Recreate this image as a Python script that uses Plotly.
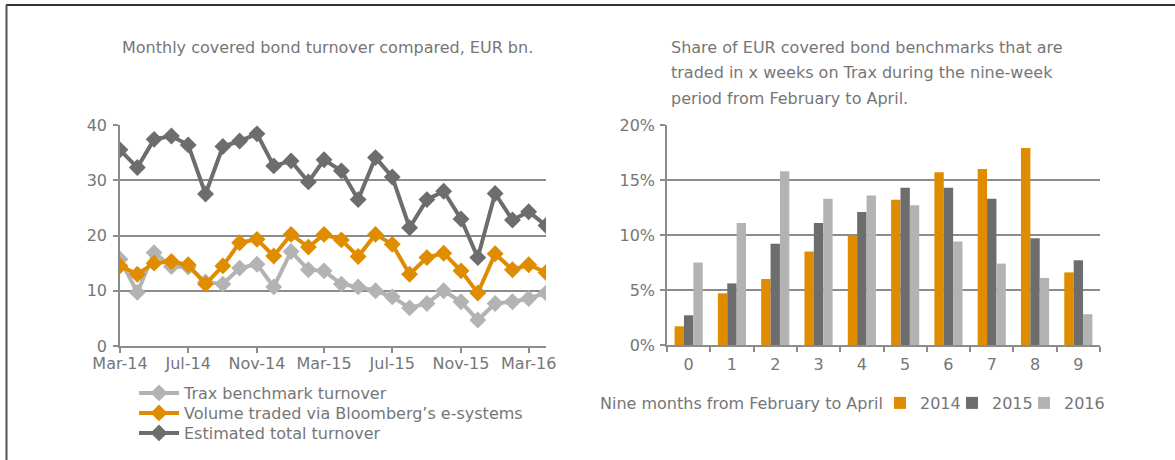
import plotly.graph_objects as go

months = ["2014-03-01", "2014-04-01", "2014-05-01", "2014-06-01", "2014-07-01", "2014-08-01",
          "2014-09-01", "2014-10-01", "2014-11-01", "2014-12-01", "2015-01-01", "2015-02-01",
          "2015-03-01", "2015-04-01", "2015-05-01", "2015-06-01", "2015-07-01", "2015-08-01",
          "2015-09-01", "2015-10-01", "2015-11-01", "2015-12-01", "2016-01-01", "2016-02-01",
          "2016-03-01", "2016-04-01"]
trax = [15.7, 9.7, 16.9, 14.4, 14.3, 11.6, 11.2, 14.1, 14.8, 10.7, 17.1, 13.8,
        13.6, 11.2, 10.7, 10.0, 8.9, 6.9, 7.7, 10.0, 8.0, 4.7, 7.7, 8.0, 8.6, 9.6]
bloomberg = [14.5, 13.0, 15.0, 15.3, 14.7, 11.2, 14.5, 18.7, 19.3, 16.3, 20.2, 17.9,
             20.2, 19.2, 16.2, 20.2, 18.4, 13.0, 16.0, 16.8, 13.6, 9.6, 16.7, 13.8, 14.7, 13.3]
total = [35.5, 32.3, 37.4, 38.0, 36.4, 27.5, 36.1, 37.1, 38.4, 32.6, 33.5, 29.7,
         33.7, 31.7, 26.5, 34.1, 30.6, 21.4, 26.5, 28.0, 23.0, 16.0, 27.6, 22.8, 24.3, 21.8]

weeks = ["0", "1", "2", "3", "4", "5", "6", "7", "8", "9"]
share_2014 = [1.7, 4.7, 6.0, 8.5, 9.9, 13.2, 15.7, 16.0, 17.9, 6.6]
share_2015 = [2.7, 5.6, 9.2, 11.1, 12.1, 14.3, 14.3, 13.3, 9.7, 7.7]
share_2016 = [7.5, 11.1, 15.8, 13.3, 13.6, 12.7, 9.4, 7.4, 6.1, 2.8]

line_names = ["Trax benchmark turnover",
              "Volume traded via Bloomberg\u2019s e-systems",
              "Estimated total turnover"]
bar_names = ["2014", "2015", "2016"]

left_title = "Monthly covered bond turnover compared, EUR bn."
right_title_lines = ["Share of EUR covered bond benchmarks that are",
                     "traded in x weeks on Trax during the nine-week",
                     "period from February to April."]
bar_legend_title = "Nine months from February to April"

ORANGE = "#e08c00"
DARK = "#6d6d6d"
LIGHT = "#b3b3b3"
TXT = "#767676"
GRID = "#8c8c8c"
FONT = "DejaVu Sans"
FS = 16

W, H = 1175, 460

fig = go.Figure()
line_legends = ["legend", "legend3", "legend4"]
for name, ys, col, lg in zip(line_names, [trax, bloomberg, total], [LIGHT, ORANGE, DARK], line_legends):
    fig.add_trace(go.Scatter(x=months, y=ys, name=name, mode="lines+markers",
                             line=dict(color=col, width=4),
                             marker=dict(symbol="diamond", size=13, color=col),
                             xaxis="x", yaxis="y", legend=lg))

bar_legends = ["legend2", "legend5", "legend6"]
for name, ys, col, lg in zip(bar_names, [share_2014, share_2015, share_2016], [ORANGE, DARK, LIGHT], bar_legends):
    fig.add_trace(go.Bar(x=weeks, y=ys, name=name, marker=dict(color=col, line=dict(width=0)),
                         xaxis="x2", yaxis="y2", legend=lg))

axis_common = dict(showline=True, linecolor=GRID, linewidth=1.5, ticks="outside", ticklen=5,
                   tickcolor=GRID, tickwidth=1.5, automargin=False, zeroline=False,
                   tickfont=dict(size=FS, color=TXT, family=FONT))

annotations = [dict(text=left_title, x=327/W, y=1-48/H, xref="paper", yref="paper",
                    xanchor="center", yanchor="middle", showarrow=False,
                    font=dict(size=FS, color=TXT, family=FONT))]
for i, line in enumerate(right_title_lines):
    annotations.append(dict(text=line, x=669/W, y=1-(48+25*i)/H, xref="paper", yref="paper",
                            xanchor="left", yanchor="middle", align="left", showarrow=False,
                            font=dict(size=FS, color=TXT, family=FONT)))
annotations.append(dict(text=bar_legend_title, x=598/W, y=1-403/H, xref="paper", yref="paper",
                        xanchor="left", yanchor="middle", showarrow=False,
                        font=dict(size=FS, color=TXT, family=FONT)))


def leg(x, y, iw):
    return dict(x=x/W, y=1-y/H, xanchor="left", yanchor="middle", orientation="v",
                font=dict(size=FS, color=TXT, family=FONT), itemwidth=iw,
                bgcolor="rgba(0,0,0,0)", borderwidth=0)


legends = {}
for lg, yy in zip(line_legends, [393, 413, 433]):
    legends[lg] = leg(134, yy, 40)
for lg, xx in zip(bar_legends, [880, 952, 1024]):
    legends[lg] = leg(xx, 403, 30)

fig.update_layout(
    template="none",
    width=W, height=H,
    autosize=False,
    margin=dict(l=0, r=0, t=0, b=0, pad=0, autoexpand=False),
    paper_bgcolor="white", plot_bgcolor="white",
    font=dict(family=FONT, size=FS, color=TXT),
    barmode="group", bargap=0.35, bargroupgap=0,
    xaxis=dict(domain=[120/W, 546/W], type="date",
               range=["2014-03-01", "2016-04-01"], dtick="M4", tick0="2014-03-01",
               tickformat="%b-%y", showgrid=False, anchor="y", ticklabelstandoff=-3, **axis_common),
    yaxis=dict(domain=[1-346/H, 1-125/H], range=[0, 40], dtick=10, ticklabelstandoff=3,
               showgrid=True, gridcolor=GRID, gridwidth=1.5, anchor="x", **axis_common),
    xaxis2=dict(domain=[667/W, 1100/W], type="category", tickson="boundaries",
                showgrid=False, anchor="y2", ticklabelstandoff=4, **axis_common),
    yaxis2=dict(domain=[1-345/H, 1-125/H], range=[0, 20], dtick=5, ticksuffix="%",
                ticklabelstandoff=2,
                showgrid=True, gridcolor=GRID, gridwidth=1.5, anchor="x2", **axis_common),
    showlegend=True,
    annotations=annotations,
    shapes=[
        dict(type="line", xref="paper", yref="paper", x0=6/W, x1=1, y0=1-5/H, y1=1-5/H,
             line=dict(color="#333333", width=2)),
        dict(type="line", xref="paper", yref="paper", x0=6.5/W, x1=6.5/W, y0=0, y1=1-5/H,
             line=dict(color="#555555", width=2)),
    ],
    **legends,
)

fig.write_html("out.html", config={"displayModeBar": False},
               post_script="document.body.style.margin='0';document.body.style.overflow='hidden';")
